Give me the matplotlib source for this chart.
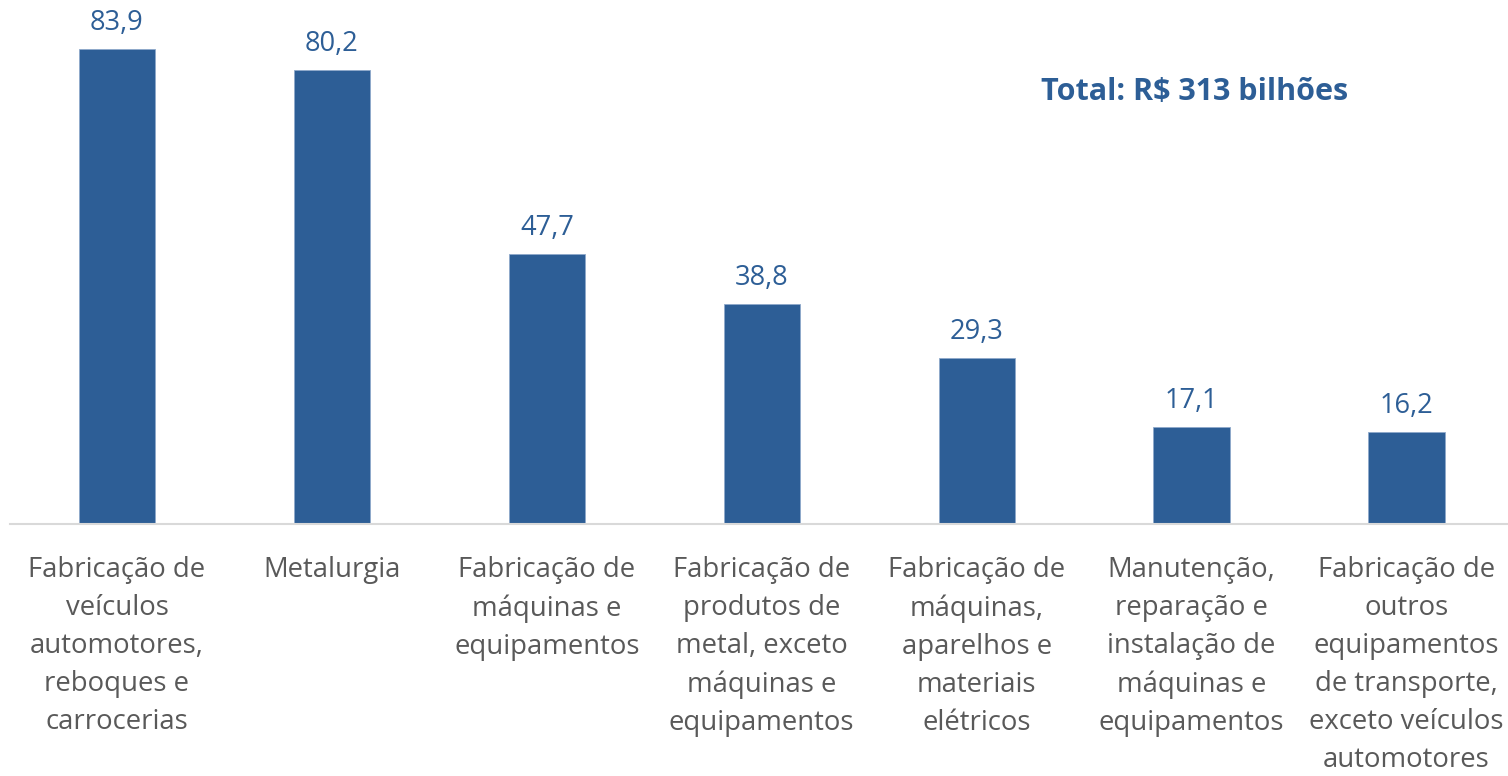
import matplotlib
matplotlib.use("Agg")
import matplotlib.pyplot as plt

categories = [
    "Fabricação de\nveículos\nautomotores,\nreboques e\ncarrocerias",
    "Metalurgia",
    "Fabricação de\nmáquinas e\nequipamentos",
    "Fabricação de\nprodutos de\nmetal, exceto\nmáquinas e\nequipamentos",
    "Fabricação de\nmáquinas,\naparelhos e\nmateriais\nelétricos",
    "Manutenção,\nreparação e\ninstalação de\nmáquinas e\nequipamentos",
    "Fabricação de\noutros\nequipamentos\nde transporte,\nexceto veículos\nautomotores",
]
values = [83.9, 80.2, 47.7, 38.8, 29.3, 17.1, 16.2]
value_labels = ["83,9", "80,2", "47,7", "38,8", "29,3", "17,1", "16,2"]
total_text = "Total: R$ 313 bilhões"

plt.rcParams['font.family'] = ['Open Sans', 'DejaVu Sans']

W, H = 1508, 776
fig = plt.figure(figsize=(W / 100, H / 100), dpi=100)
left_px, right_px = 9.5, 1514
ax = fig.add_axes([left_px / W, (H - 524) / H, (right_px - left_px) / W, 524 / H])

bar_color = "#2D5E96"
x = list(range(len(values)))
ax.bar(x, values, width=0.355, color=bar_color, edgecolor="#8FA9CB", linewidth=0.6, zorder=2)
ax.set_xlim(-0.5, len(values) - 0.5)
ax.set_ylim(0, 524 / 5.66)

for xi, v, lab in zip(x, values, value_labels):
    ax.annotate(lab, (xi, v), xytext=(0, 9), textcoords="offset points",
                ha="center", va="bottom", fontsize=19.6, color="#2D5E96")

ax.set_xticks(x)
ax.set_xticklabels(categories, fontsize=19.8, color="#595959", linespacing=1.48)
ax.tick_params(axis="x", length=0, pad=23)
ax.set_yticks([])
for s in ["top", "right", "left"]:
    ax.spines[s].set_visible(False)
ax.spines["bottom"].set_color("#D9D9D9")
ax.spines["bottom"].set_linewidth(1.5)

fig.text(1195 / W, 1 - 92 / H, total_text, ha="center", va="center",
         fontsize=22, fontweight="bold", color="#2D5E96")

fig.savefig("out.png", dpi=100)
